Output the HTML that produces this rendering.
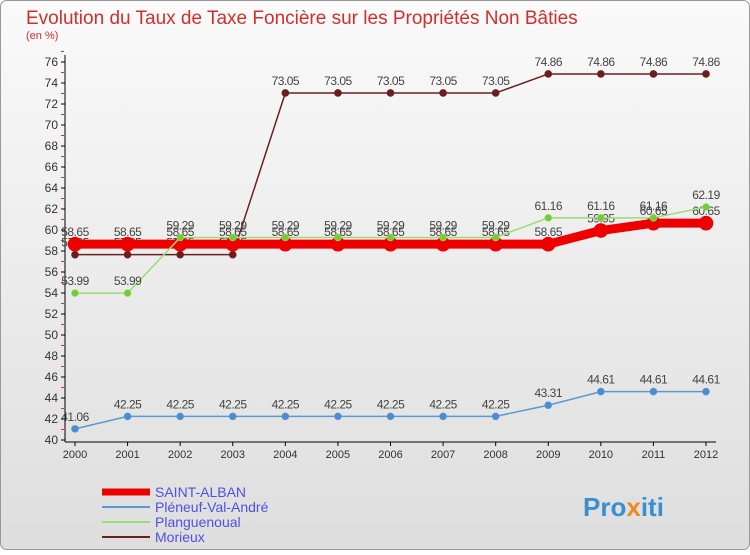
<!DOCTYPE html>
<html><head><meta charset="utf-8"><style>
body{margin:0;width:750px;height:550px;overflow:hidden;font-family:"Liberation Sans",sans-serif}
</style></head><body>
<svg width="750" height="550" xmlns="http://www.w3.org/2000/svg">
<defs><linearGradient id="bg" x1="0" y1="0" x2="0" y2="1"><stop offset="0" stop-color="#fafafa"/><stop offset="1" stop-color="#dedede"/></linearGradient></defs>
<rect x="0.5" y="0.5" width="749" height="549" rx="6" fill="url(#bg)" stroke="#999"/>
<text x="26" y="24" font-size="19" fill="#d0302c">Evolution du Taux de Taxe Foncière sur les Propriétés Non Bâties</text>
<text x="26" y="39" font-size="11" fill="#d0302c">(en %)</text>
<g id="axes"></g><g id="series"></g><g id="legend"></g>
<text x="583" y="516" font-size="26" font-weight="bold" fill="#3a8fd0">Pro<tspan fill="#f08a20">x</tspan>iti</text>
</svg>
<script>
const years=[2000,2001,2002,2003,2004,2005,2006,2007,2008,2009,2010,2011,2012];
const yTicks=[40,42,44,46,48,50,52,54,56,58,60,62,64,66,68,70,72,74,76];
const saintAlban=[58.65,58.65,58.65,58.65,58.65,58.65,58.65,58.65,58.65,58.65,59.95,60.65,60.65];
const pleneuf=[41.06,42.25,42.25,42.25,42.25,42.25,42.25,42.25,42.25,43.31,44.61,44.61,44.61];
const planguenoual=[53.99,53.99,59.29,59.29,59.29,59.29,59.29,59.29,59.29,61.16,61.16,61.16,62.19];
const morieux=[57.65,57.65,57.65,57.65,73.05,73.05,73.05,73.05,73.05,74.86,74.86,74.86,74.86];
const NS='http://www.w3.org/2000/svg';
const X=i=>75+i*(706-75)/12;
const Y=v=>440-(v-40)*(440-62)/36;
function mk(tag,attrs,parent,text){const e=document.createElementNS(NS,tag);for(const k in attrs)e.setAttribute(k,attrs[k]);if(text!==undefined)e.textContent=text;parent.appendChild(e);return e;}
const ax=document.getElementById('axes');
const yl=mk('line',{x1:65,y1:55,x2:65,y2:442,stroke:'#000'},ax);


const xl=mk('line',{x1:65,y1:442,x2:716,y2:442,stroke:'#000'},ax);


yTicks.forEach(v=>{
 mk('line',{x1:61,y1:Y(v),x2:65,y2:Y(v),stroke:'#000'},ax);
 mk('line',{x1:61,y1:Y(v+1),x2:64,y2:Y(v+1),stroke:'#e03030'},ax);
 const t=mk('text',{x:58,y:Y(v)+4,'font-size':12,fill:'#333','text-anchor':'end'},ax,v);
 
 
});
years.forEach((y,i)=>{
 mk('line',{x1:X(i),y1:442,x2:X(i),y2:446,stroke:'#000'},ax);
 const t=mk('text',{x:X(i),y:458,'font-size':11,fill:'#333','text-anchor':'middle'},ax,y);
 
 
});
const sg=document.getElementById('series');
function draw(vals,color,w,r,fill,name){
 const g=mk('g',{},sg);
 
 
 mk('polyline',{points:vals.map((v,i)=>X(i)+','+Y(v)).join(' '),fill:'none',stroke:color,'stroke-width':w,'stroke-linejoin':'round'},g);
 vals.forEach((v,i)=>{
  const c=mk('circle',{cx:X(i),cy:Y(v),r:r,fill:fill,stroke:color,'stroke-width':0.6},g);
  
  
  const t=mk('text',{x:X(i),y:Y(v)-8,'font-size':12,fill:'#444','text-anchor':'middle','letter-spacing':'-0.5'},g,String(v));
  
  
 });
}
draw(pleneuf,'#5a9ad0',1.5,3.5,'#4a8ed0','pleneuf');
draw(morieux,'#6b2020',1.5,3.5,'#6b1e1e','morieux');
draw(saintAlban,'#ee0000',9,7,'#ee0000','saint-alban');
draw(planguenoual,'#99dd77',1.5,3.5,'#77cc33','planguenoual');
const lg=document.getElementById('legend');
const items=[['SAINT-ALBAN','#ee0000',7,'saint-alban'],['Pléneuf-Val-André','#5a9ad0',2,'pleneuf'],['Planguenoual','#99dd77',2,'planguenoual'],['Morieux','#6b2020',2,'morieux']];
items.forEach((it,k)=>{
 const y=492+k*15;
 const g=mk('g',{},lg);
 
 
 mk('line',{x1:102,y1:y,x2:150,y2:y,stroke:it[1],'stroke-width':it[2]},g);
 mk('text',{x:155,y:y+5,'font-size':14,fill:'#5050e0'},g,it[0]);
});
</script>
</body></html>
